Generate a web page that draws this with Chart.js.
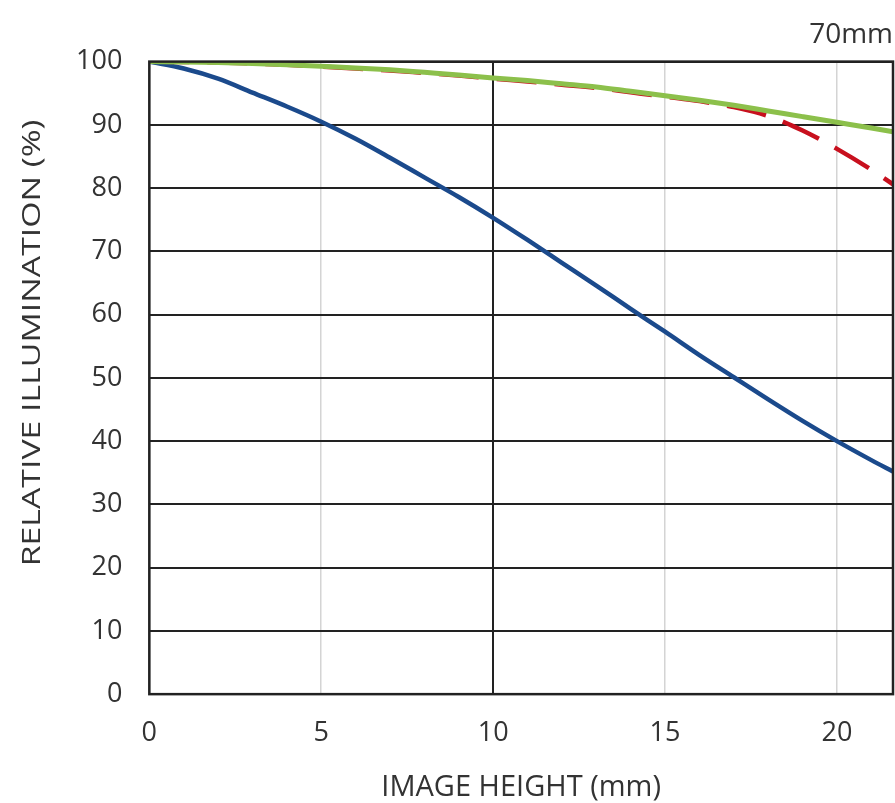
<!DOCTYPE html>
<html>
<head>
<meta charset="utf-8">
<script src="https://cdn.jsdelivr.net/npm/chart.js@4/dist/chart.umd.min.js"></script>
<style>
  html, body { margin: 0; padding: 0; background: #fff; }
  #wrap { width: 895px; height: 803px; }
</style>
</head>
<body>
<div id="wrap"><canvas id="illum"></canvas></div>
<script>
// image height (mm)
const imageHeight = [0, 1, 2, 3, 4, 5, 6, 7, 8, 9, 10, 11, 12, 13, 14, 15, 16, 17, 18, 19, 20, 21, 21.63];
// relative illumination (%)
const wideOpen = [100, 98.9, 97.3, 95.1, 92.9, 90.5, 87.8, 84.8, 81.7, 78.6, 75.3, 71.8, 68.2, 64.6, 60.9, 57.3, 53.6, 50.1, 46.6, 43.2, 40.0, 37.0, 35.2];
const stopGreen = [100, 99.95, 99.85, 99.7, 99.5, 99.25, 99.0, 98.7, 98.3, 97.9, 97.4, 97.0, 96.5, 96.0, 95.3, 94.6, 93.9, 93.1, 92.2, 91.3, 90.4, 89.5, 88.9];
const stopRed = [100, 99.95, 99.85, 99.7, 99.5, 99.2, 98.9, 98.6, 98.2, 97.8, 97.3, 96.85, 96.35, 95.85, 95.15, 94.45, 93.75, 92.8, 91.4, 89.1, 86.2, 82.9, 80.6];
const xTicks = [0, 5, 10, 15, 20];
const yTicks = [0, 10, 20, 30, 40, 50, 60, 70, 80, 90, 100];
const yTitle = "RELATIVE ILLUMINATION (%)";

const pts = (ys) => ys.map((y, i) => ({ x: imageHeight[i], y: y }));
const FONT = "Open Sans";

// marco del área del gráfico y título vertical
const frame = {
  id: "frame",
  afterDraw(chart) {
    const a = chart.chartArea;
    const c = chart.ctx;
    c.save();
    c.strokeStyle = "#222";
    c.lineWidth = 2.5;
    c.strokeRect(a.left, a.top, a.right - a.left, a.bottom - a.top);
    c.restore();

    c.save();
    c.translate(33, (a.top + a.bottom) / 2 - 35);
    c.rotate(-Math.PI / 2);
    c.scale(1.3, 1);
    c.fillStyle = "#333";
    c.font = "26px '" + FONT + "'";
    c.textAlign = "center";
    c.textBaseline = "middle";
    c.fillText(yTitle, 0, 0);
    c.restore();
  },
};

// el primer dataset se dibuja encima
new Chart(document.getElementById("illum"), {
  type: "line",
  data: {
    datasets: [
      {
        label: "green",
        data: pts(stopGreen),
        borderColor: "#8cc04b",
        borderWidth: 5,
      },
      {
        label: "red",
        data: pts(stopRed),
        borderColor: "#c8101e",
        borderWidth: 4.5,
        borderDash: [40, 18],
      },
      {
        label: "blue",
        data: pts(wideOpen),
        borderColor: "#1b4a8c",
        borderWidth: 4.5,
      },
    ],
  },
  options: {
    responsive: true,
    maintainAspectRatio: false,
    animation: false,
    layout: { padding: { left: 49, right: 2, top: 0, bottom: 0 } },
    elements: {
      point: { radius: 0 },
      line: { cubicInterpolationMode: "monotone", fill: false },
    },
    scales: {
      x: {
        type: "linear",
        min: 0,
        max: 21.63,
        afterBuildTicks: (axis) => {
          axis.ticks = xTicks.map((v) => ({ value: v }));
        },
        grid: {
          color: (ctx) => (ctx.tick && ctx.tick.value === 10 ? "#222" : "#d4d4d4"),
          lineWidth: (ctx) => (ctx.tick && ctx.tick.value === 10 ? 2 : 1.5),
          drawTicks: false,
        },
        border: { display: false },
        ticks: {
          color: "#333",
          font: { family: FONT, size: 27 },
          padding: 23,
          maxRotation: 0,
        },
        title: {
          display: true,
          text: "IMAGE HEIGHT (mm)",
          color: "#333",
          font: { family: FONT, size: 29, lineHeight: 1.05 },
          padding: { top: 0, bottom: 0 },
        },
      },
      y: {
        min: 0,
        max: 100,
        afterBuildTicks: (axis) => {
          axis.ticks = yTicks.map((v) => ({ value: v }));
        },
        grid: { color: "#222", lineWidth: 2, drawTicks: false },
        border: { display: false },
        ticks: {
          color: "#333",
          font: { family: FONT, size: 27 },
          padding: 27,
        },
        title: { display: false },
      },
    },
    plugins: {
      legend: { display: false },
      tooltip: { enabled: false },
      title: {
        display: true,
        text: "70mm",
        align: "end",
        color: "#333",
        font: { family: FONT, size: 28, weight: "normal" },
        padding: { top: 18, bottom: 10 },
      },
    },
  },
  plugins: [frame],
});
</script>
</body>
</html>
